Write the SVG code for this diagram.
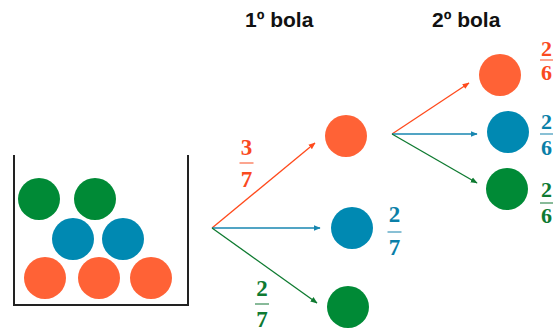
<svg xmlns="http://www.w3.org/2000/svg" width="557" height="332" viewBox="0 0 557 332">
<style>
.o{fill:#FF6236}.b{fill:#0089B2}.g{fill:#008A36}
.to{fill:#FA4A1E}.tb{fill:#0A7FA8}.tg{fill:#0E7A32}
.fr{font-family:"Liberation Serif","Times New Roman",serif;font-weight:bold;font-size:23px;text-anchor:middle}
.fs{font-size:22px}
.ti{font-family:"Liberation Sans",Arial,sans-serif;font-weight:bold;font-size:21px;fill:#111}
.bar{stroke-width:1.2}
</style>
<defs>
<marker id="ao" viewBox="0 0 10 10" refX="9" refY="5" markerWidth="7" markerHeight="7" orient="auto" markerUnits="userSpaceOnUse"><path d="M0,1L10,5L0,9z" fill="#FF4A1C"/></marker>
<marker id="ab" viewBox="0 0 10 10" refX="9" refY="5" markerWidth="7" markerHeight="7" orient="auto" markerUnits="userSpaceOnUse"><path d="M0,1L10,5L0,9z" fill="#1786B0"/></marker>
<marker id="ag" viewBox="0 0 10 10" refX="9" refY="5" markerWidth="7" markerHeight="7" orient="auto" markerUnits="userSpaceOnUse"><path d="M0,1L10,5L0,9z" fill="#0E7A30"/></marker>
</defs>
<g id="titles">
<text class="ti" x="245" y="27">1º bola</text>
<text class="ti" x="432" y="27">2º bola</text>
</g>
<g id="box">
<path d="M14,155V305H188V155" fill="none" stroke="#222" stroke-width="2"/>
<circle class="g" cx="39" cy="199" r="21"/>
<circle class="g" cx="95" cy="199" r="21"/>
<circle class="b" cx="73" cy="239" r="21"/>
<circle class="b" cx="123" cy="239" r="21"/>
<circle class="o" cx="45" cy="278" r="21"/>
<circle class="o" cx="99" cy="278" r="21"/>
<circle class="o" cx="151" cy="278" r="21"/>
</g>
<g id="connectors" stroke-width="1.3" fill="none">
<line x1="212" y1="228" x2="315" y2="143" stroke="#FF4A1C" marker-end="url(#ao)"/>
<line x1="212" y1="228" x2="320" y2="228" stroke="#1786B0" marker-end="url(#ab)"/>
<line x1="212" y1="228" x2="317" y2="303" stroke="#0E7A30" marker-end="url(#ag)"/>
<line x1="392" y1="134" x2="469" y2="83" stroke="#FF4A1C" marker-end="url(#ao)"/>
<line x1="392" y1="134" x2="477" y2="134" stroke="#1786B0" marker-end="url(#ab)"/>
<line x1="392" y1="134" x2="477" y2="183" stroke="#0E7A30" marker-end="url(#ag)"/>
</g>
<g id="level1-orange"><circle class="o" cx="346" cy="136" r="21"/></g>
<g id="level1-blue"><circle class="b" cx="352" cy="228" r="21"/></g>
<g id="level1-green"><circle class="g" cx="348" cy="307" r="21"/></g>
<g id="level2-orange"><circle class="o" cx="500" cy="75" r="21"/></g>
<g id="level2-blue"><circle class="b" cx="508" cy="132" r="21"/></g>
<g id="level2-green"><circle class="g" cx="507" cy="189" r="21"/></g>
<g id="labels">
<g class="to"><text class="fr" x="246.5" y="155">3</text><line class="bar" x1="239.5" y1="163" x2="253.5" y2="163" stroke="#FA6A45"/><text class="fr" x="246.5" y="187">7</text></g>
<g class="tb"><text class="fr" x="394.5" y="222">2</text><line class="bar" x1="387.5" y1="232" x2="401.5" y2="232" stroke="#3B97BA"/><text class="fr" x="394.5" y="255">7</text></g>
<g class="tg"><text class="fr" x="262" y="296">2</text><line class="bar" x1="255" y1="304" x2="269" y2="304" stroke="#3A8D55"/><text class="fr" x="262" y="327">7</text></g>
<g class="to"><text class="fr fs" x="546.5" y="56">2</text><line class="bar" x1="540" y1="60" x2="553" y2="60" stroke="#FA6A45"/><text class="fr fs" x="546.5" y="80">6</text></g>
<g class="tb"><text class="fr fs" x="546.5" y="129">2</text><line class="bar" x1="540" y1="134" x2="553" y2="134" stroke="#3B97BA"/><text class="fr fs" x="546.5" y="155">6</text></g>
<g class="tg"><text class="fr fs" x="546.5" y="197">2</text><line class="bar" x1="540" y1="203" x2="553" y2="203" stroke="#3A8D55"/><text class="fr fs" x="546.5" y="223">6</text></g>
</g>
</svg>
